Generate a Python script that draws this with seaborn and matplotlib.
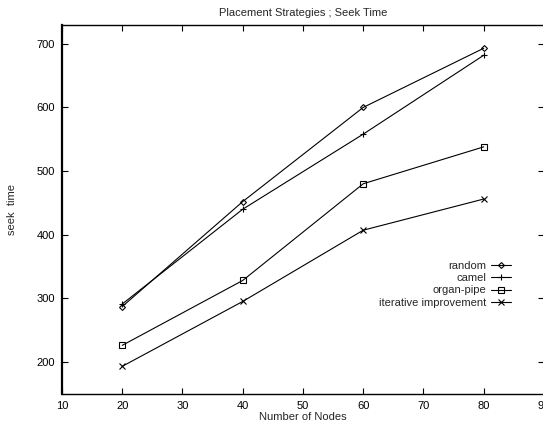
import matplotlib
matplotlib.use("Agg")
import matplotlib.pyplot as plt
import seaborn as sns
import pandas as pd

nodes = [20, 40, 60, 80]
random_vals = [287, 452, 600, 693]
camel_vals = [291, 440, 558, 682]
organ_pipe_vals = [226, 328, 480, 538]
iterative_vals = [193, 295, 407, 456]
series_names = ["random", "camel", "organ-pipe", "iterative improvement"]
x_ticks = [10, 20, 30, 40, 50, 60, 70, 80, 90]
y_ticks = [200, 300, 400, 500, 600, 700]

sns.set_style("ticks")
plt.rcParams['font.family'] = ['Liberation Sans', 'DejaVu Sans']

fig = plt.figure(figsize=(5.43, 4.29), dpi=100)
ax = fig.add_axes([62/543, 1-393.7/429, (544-62)/543, (393.7-24.7)/429])

markers = {"random": "D", "camel": "+", "organ-pipe": "s", "iterative improvement": "x"}
sizes_m = {"random": 3.0, "camel": 4.6, "organ-pipe": 3.8, "iterative improvement": 4.0}

for name, vals in zip(series_names, [random_vals, camel_vals, organ_pipe_vals, iterative_vals]):
    df = pd.DataFrame({"nodes": nodes, "seek": vals})
    sns.lineplot(data=df, x="nodes", y="seek", marker=markers[name],
                 markersize=sizes_m[name], markerfacecolor="none",
                 markeredgecolor="black", markeredgewidth=0.8,
                 color="black", linewidth=0.8, ax=ax, label=name)

ax.set_xlim(10, 90)
ax.set_ylim(150, 730)
ax.set_xticks(x_ticks)
ax.set_yticks(y_ticks)
ax.tick_params(direction="in", length=4, width=0.8, top=True, right=True,
               labelsize=8, colors="black", pad=5)
for sp in ax.spines.values():
    sp.set_visible(True)
    sp.set_linewidth(1.0)
    sp.set_color("black")
ax.spines["left"].set_linewidth(1.6)

ax.set_xlabel("Number of Nodes", fontsize=8, labelpad=1)
ax.set_ylabel("seek  time", fontsize=8, labelpad=14)
ax.set_title("Placement Strategies ; Seek Time", fontsize=8, pad=6)

handles, labels = ax.get_legend_handles_labels()
ax.legend(handles, labels, loc="upper right", bbox_to_anchor=(511/543, 1-261/429),
          bbox_transform=fig.transFigure, frameon=False, markerfirst=False,
          fontsize=8, handlelength=1.8, handletextpad=0.45, labelspacing=0.2,
          borderpad=0, borderaxespad=0)

fig.savefig("out.png", dpi=100)
